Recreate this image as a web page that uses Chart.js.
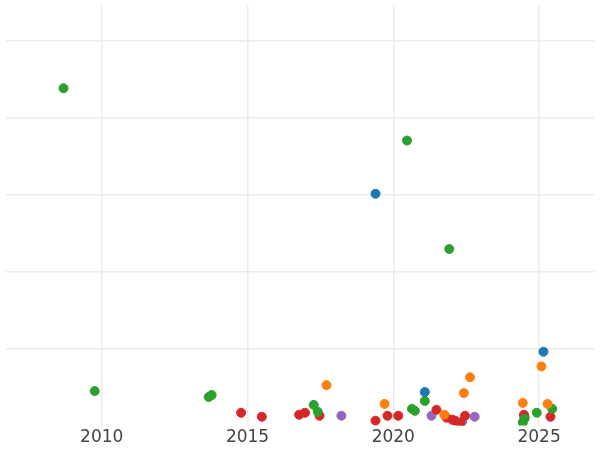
<!DOCTYPE html>
<html><head><meta charset="utf-8">
<script src="https://cdn.jsdelivr.net/npm/chart.js@4"></script>
<style>html,body{margin:0;background:#fff}#w{width:600px;height:450px}</style>
</head><body><div id="w"><canvas id="c"></canvas></div>
<script>
const blueX=[2019.39,2021.08,2025.15];
const blueY=[3.013,0.436,0.96];
const orangeX=[2017.71,2019.70,2021.75,2022.42,2022.63,2024.44,2025.08,2025.29];
const orangeY=[0.526,0.282,0.141,0.423,0.628,0.295,0.769,0.282];
const greenX=[2008.69,2009.76,2013.67,2013.77,2017.27,2017.41,2020.47,2020.64,2020.74,2021.08,2021.92,2024.44,2024.50,2024.92,2025.45];
const greenY=[4.385,0.449,0.372,0.397,0.269,0.18,3.705,0.218,0.192,0.32,2.295,0.04,0.09,0.167,0.218];
const redX=[2014.78,2015.49,2016.77,2016.97,2017.47,2019.39,2019.80,2020.17,2021.48,2021.82,2022.02,2022.12,2022.29,2022.46,2024.48,2024.50,2025.39];
const redY=[0.167,0.115,0.141,0.167,0.128,0.064,0.128,0.128,0.205,0.103,0.077,0.064,0.038,0.128,0.141,0.11,0.115];
const purpleX=[2018.22,2021.31,2022.36,2022.79];
const purpleY=[0.128,0.128,0.05,0.115];
const xTicks=[2010,2015,2020,2025];
const pts=(xs,ys)=>xs.map((x,i)=>({x,y:ys[i]}));
const ds=(d,c)=>({data:d,backgroundColor:c,borderColor:c,pointRadius:4.5,pointHoverRadius:4.5});
new Chart(document.getElementById('c'),{type:'scatter',
data:{datasets:[ds(pts(blueX,blueY),'#1f77b4'),ds(pts(orangeX,orangeY),'#ff7f0e'),ds(pts(greenX,greenY),'#2ca02c'),ds(pts(redX,redY),'#d62728'),ds(pts(purpleX,purpleY),'#9467bd')]},
options:{responsive:true,maintainAspectRatio:false,animation:false,
layout:{padding:{left:-7,right:-6,top:-6,bottom:0}},
plugins:{legend:{display:false},tooltip:{enabled:false}},
scales:{
x:{type:'linear',min:2006.7,max:2026.9,
afterBuildTicks:a=>{a.ticks=xTicks.map(v=>({value:v}));},
grid:{color:'#ebebeb',lineWidth:1.5,drawTicks:false},border:{display:false},
ticks:{color:'#444',font:{family:'DejaVu Sans',size:17},padding:2,callback:v=>String(v)}},
y:{min:0,max:5.46,
afterBuildTicks:a=>{a.ticks=[1,2,3,4,5].map(v=>({value:v}));},
grid:{color:'#ebebeb',lineWidth:1.5,drawTicks:false},border:{display:false},
ticks:{display:false},afterFit:a=>{a.width=0;}}
}}});
</script></body></html>
